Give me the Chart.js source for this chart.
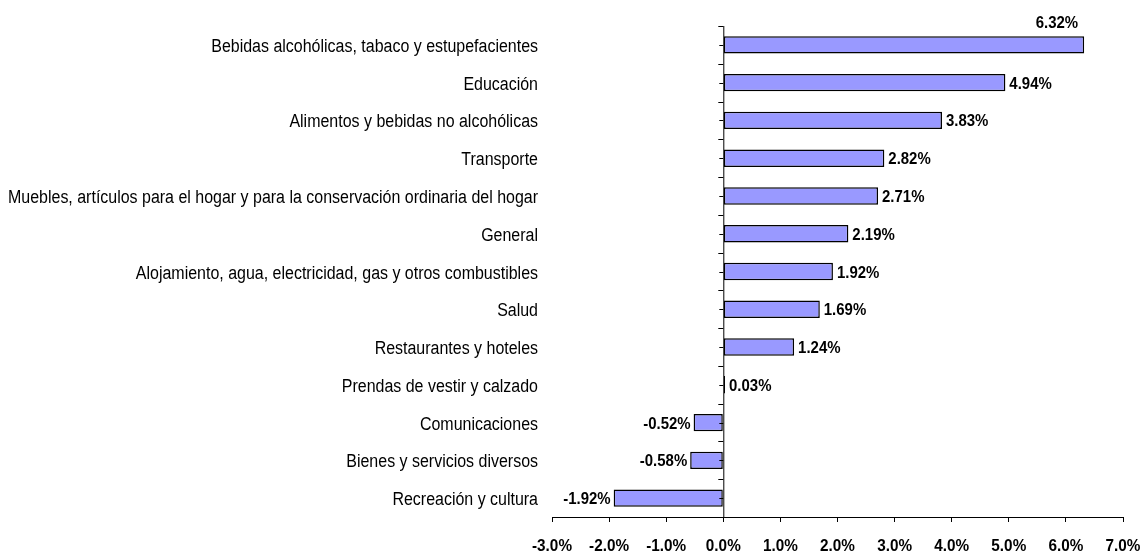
<!DOCTYPE html>
<html>
<head>
<meta charset="utf-8">
<script src="https://cdn.jsdelivr.net/npm/chart.js@4/dist/chart.umd.min.js"></script>
<style>
  body { margin: 0; background: #fff; }
  #wrap { width: 1143px; height: 552px; }
</style>
</head>
<body>
<div id="wrap"><canvas id="chart" width="1143" height="552"></canvas></div>
<script>
// categories and values (variación %)
const categories = [
  "Bebidas alcohólicas, tabaco y estupefacientes",
  "Educación",
  "Alimentos y bebidas no alcohólicas",
  "Transporte",
  "Muebles, artículos para el hogar y para la conservación ordinaria del hogar",
  "General",
  "Alojamiento, agua, electricidad, gas y otros combustibles",
  "Salud",
  "Restaurantes y hoteles",
  "Prendas de vestir y calzado",
  "Comunicaciones",
  "Bienes y servicios diversos",
  "Recreación y cultura"
];
const values = [6.32, 4.94, 3.83, 2.82, 2.71, 2.19, 1.92, 1.69, 1.24, 0.03, -0.52, -0.58, -1.92];
const xTicks = [-3, -2, -1, 0, 1, 2, 3, 4, 5, 6, 7];

const FONT = "'Liberation Sans', Arial, sans-serif";
Chart.defaults.font.family = FONT;
Chart.defaults.color = "#000";

// narrow text: Arial squeezed horizontally
function narrowText(c, txt, x, y, align, sx) {
  c.save();
  c.translate(x, y);
  c.scale(sx, 1);
  c.textAlign = align;
  c.fillText(txt, 0, 0);
  c.restore();
}

// zero line, y ticks at x=0, category labels, x labels, value labels
const extras = {
  id: 'extras',
  afterDatasetsDraw(chart) {
    const c = chart.ctx;
    const xs = chart.scales.x, ys = chart.scales.y;
    const x0 = xs.getPixelForValue(0);
    const area = chart.chartArea;
    c.save();
    c.strokeStyle = "#000";
    c.lineWidth = 1;
    c.beginPath();
    c.moveTo(x0 + 0.5, area.top);
    c.lineTo(x0 + 0.5, area.bottom);
    const step = (area.bottom - area.top) / categories.length;
    for (let i = 0; i <= categories.length; i++) {
      const y = Math.round(area.top + i * step) + 0.5;
      c.moveTo(x0 - 5, y); c.lineTo(x0, y);
    }
    categories.forEach((_, i) => {
      const y = Math.round(ys.getPixelForValue(i)) + 0.5;
      c.moveTo(x0 - 4, y); c.lineTo(x0, y);
    });
    c.stroke();

    c.fillStyle = "#000";
    c.textBaseline = "alphabetic";

    // category labels
    c.font = "18px " + FONT;
    const longest = Math.max(...categories.map(t => c.measureText(t).width));
    const sx = 530 / longest;
    categories.forEach((t, i) => {
      narrowText(c, t, area.left - 14, ys.getPixelForValue(i) + 7, "right", sx);
    });

    // x tick labels
    c.font = "bold 17px " + FONT;
    xTicks.forEach(v => {
      narrowText(c, v.toFixed(1) + "%", xs.getPixelForValue(v), area.bottom + 34, "center", 0.9);
    });

    // value labels
    const meta = chart.getDatasetMeta(0);
    meta.data.forEach((bar, i) => {
      const v = values[i];
      const txt = v.toFixed(2) + "%";
      if (i === 0) {
        narrowText(c, txt, bar.x - 6, bar.y - 17, "right", 0.88);
      } else if (v >= 0) {
        narrowText(c, txt, bar.x + 4, bar.y + 6, "left", 0.88);
      } else {
        narrowText(c, txt, bar.x - 3, bar.y + 6, "right", 0.88);
      }
    });
    c.restore();
  }
};

new Chart(document.getElementById("chart"), {
  type: 'bar',
  data: {
    labels: categories,
    datasets: [{
      data: values,
      backgroundColor: "#9999ff",
      borderColor: "#000",
      borderWidth: 1.5,
      borderSkipped: false,
      barPercentage: 0.46,
      categoryPercentage: 1
    }]
  },
  options: {
    indexAxis: 'y',
    responsive: false,
    animation: false,
    layout: { padding: { top: 26, right: 20, left: 0, bottom: 0 } },
    plugins: { legend: { display: false }, tooltip: { enabled: false } },
    scales: {
      x: {
        min: -3, max: 7,
        afterBuildTicks: s => { s.ticks = xTicks.map(v => ({ value: v })); },
        afterFit: s => { s.height = 35; },
        border: { display: true, color: "#000", width: 1 },
        grid: { drawOnChartArea: false, drawTicks: true, tickLength: 5, tickColor: "#000" },
        ticks: { display: false }
      },
      y: {
        afterFit: s => { s.width = 552; },
        border: { display: false },
        grid: { display: false },
        ticks: { display: false }
      }
    }
  },
  plugins: [extras]
});
</script>
</body>
</html>
